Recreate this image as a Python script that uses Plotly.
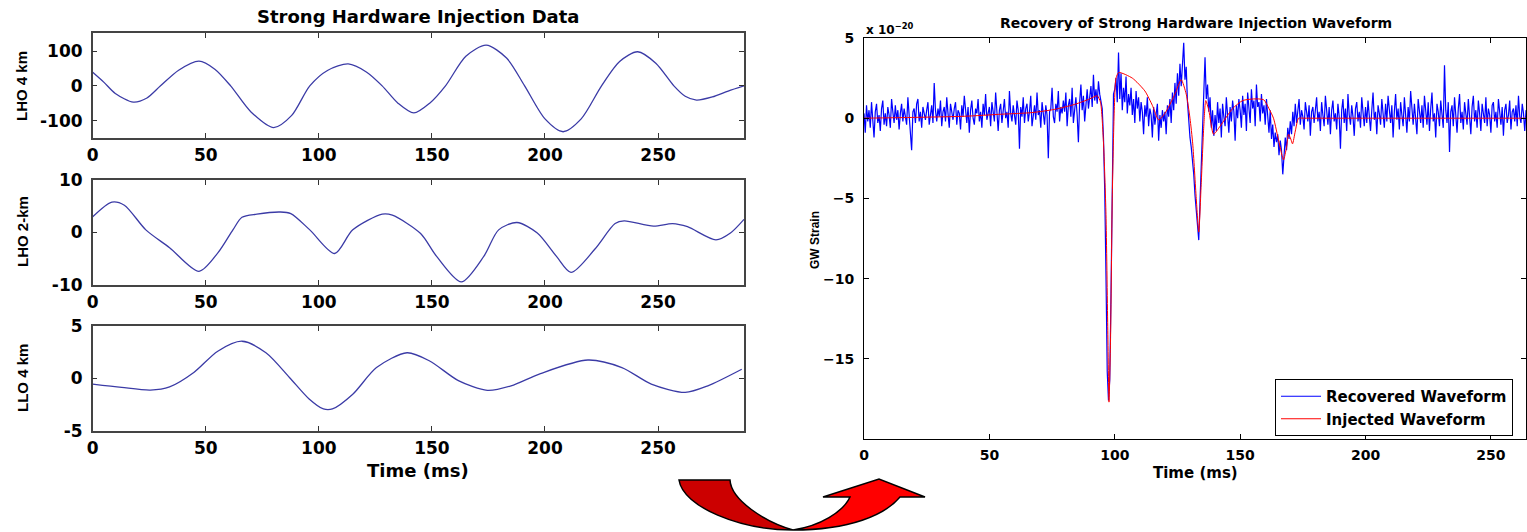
import numpy as np
import plotly.graph_objects as go

W, H = 1527, 532

# ---------------- Left panel data (ms, detector output) ----------------
lho4_t = [0, 5, 10, 18, 24, 30, 38, 47, 54, 61, 70, 80, 88, 96, 104, 113, 121, 128, 135, 142,
          149, 156, 165, 174, 183, 191, 200, 208, 216, 225, 233, 241, 249, 257, 262, 267, 274, 281, 288]
lho4_v = [39, 10, -22, -47, -35, 0, 45, 71, 48, 0, -75, -120, -85, 0, 45, 63, 40, 0, -50, -78,
          -50, 0, 85, 117, 80, 0, -95, -132, -95, 0, 70, 98, 65, 0, -30, -41, -32, -15, 0]

lho2_t = [0, 8.5, 14, 23.5, 34, 47, 55.5, 62, 66, 72.6, 83, 87.6, 96, 107, 115, 128, 132.5, 145,
          152, 163, 173, 179.5, 187.6, 196.6, 205, 211.5, 222, 231, 235, 248, 256.4, 263, 275.6, 282, 288]
lho2_v = [3.0, 5.8, 5.2, 0.5, -2.9, -7.4, -3.8, 0.5, 2.9, 3.5, 3.9, 3.6, 0.5, -4.0, 0.5, 3.5, 3.3, -0.2,
          -4.5, -9.4, -4.5, 0.5, 1.9, -0.1, -4.5, -7.6, -3.2, 1.7, 2.2, 1.2, 1.7, 1.1, -1.4, -0.1, 2.5]

llo4_t = [0, 12.8, 25.5, 34, 44.7, 55.3, 66, 76.6, 87, 95.7, 102, 106, 115, 125.5, 139, 149, 161.7,
          174.5, 185, 198, 219, 234, 247, 262, 272, 287]
llo4_v = [-0.53, -0.85, -1.1, -0.8, 0.57, 2.6, 3.55, 2.45, 0.1, -1.95, -2.9, -2.9, -1.5, 1.04, 2.45, 1.67, -0.2,
          -1.13, -0.7, 0.47, 1.76, 1.04, -0.53, -1.32, -0.7, 0.88]

left_xticks = [0, 50, 100, 150, 200, 250]

# ---------------- Right panel data (x 1e-20 strain) ----------------
inj_t = [0, 20, 40, 55, 67, 76, 84, 90, 93, 94.3, 95.5, 96.5, 97.2, 97.7, 98.3, 99, 99.8, 100.5, 101.6,
         107, 112, 115, 117.5, 120, 124, 126.5, 128.5, 130, 131.1, 132.5, 133.5, 134.5, 135.5, 136.3,
         137.5, 139.4, 142, 147, 151, 155.4, 159.4, 161.5, 163.3, 165.5, 167.3, 168.5, 169.3, 170.2,
         170.9, 172, 173.3, 175, 200, 230, 264]
inj_v = [0.0, 0.05, 0.12, 0.25, 0.35, 0.55, 0.86, 1.2, 1.4, 1.0, -1.5, -6.0, -13.0, -17.7, -14.0, -5.0, 0.5, 2.5, 2.85,
         2.5, 1.7, 0.8, -0.1, 0.3, 1.5, 2.4, 1.5, 0.0, -1.6, -5.0, -7.1, -4.0, -0.5, 1.1,
         0.5, -1.0, -0.5, 0.6, 1.1, 1.2, 1.15, 0.6, 0.0, -1.5, -2.6, -1.8, -1.0, -1.3,
         -1.6, -0.8, 0.0, 0.0, 0.0, 0.0, 0.0]

rec_dt = 0.5  # ms between recovered samples
rec_v = [
    0.3, -0.9, 0.8, -0.2, 0.5, -0.6, 1.0, 0.1, -1.2, 0.4, 0.9, -0.3, 0.2, -0.8, 0.6, 1.1, -0.4, 0.3, -0.5, 0.7,
    0.2, -0.6, 1.2, 0.4, -0.3, 0.8, -0.1, 0.5, -0.7, 0.3, 0.9, -0.2, 0.6, 0.1, -0.4, 1.3, 0.2, -0.5, -2.0, 0.4,
    0.6, -0.3, 0.9, 1.2, -0.2, 0.4, -0.6, 0.7, 0.3, -0.1, 0.5, 1.0, -0.4, 0.2, 0.8, -0.3, 2.2, 0.5, -0.2, 0.6,
    0.1, 1.1, -0.5, 0.4, 0.7, -0.2, 1.3, 0.3, -0.6, 0.9, 0.2, -0.1, 0.6, 1.0, -0.4, 0.5, 0.3, -0.7, 0.8, 0.1,
    1.4, 0.2, -0.3, 0.7, -0.9, 0.5, 1.1, 0.0, -0.4, 0.6, 0.3, 1.2, -0.2, 0.4, -0.6, 0.9, 0.2, 1.5, -0.1, 0.3,
    0.7, -0.5, 1.0, 0.4, -0.2, 1.6, 0.1, -0.8, 0.5, 0.9, -0.3, 0.6, 1.2, 0.0, 0.4, -0.6, 1.7, 0.3, -0.2, 0.8,
    0.2, -0.4, 1.1, 0.5, -1.9, 0.7, 0.1, 1.3, -0.3, 0.6, 0.9, -0.2, 0.4, 1.4, -0.5, 0.3, 0.8, -0.1, 1.6, 0.2,
    0.5, -0.6, 1.0, 0.3, -0.4, 0.8, 0.2, -2.5, 0.4, 0.6, 1.9, 0.1, -0.3, 0.9, 0.4, 1.7, -0.2, 0.7, 0.3, 1.1,
    0.4, 1.6, -0.5, 0.8, 1.2, 0.1, 1.9, -0.3, 0.7, 1.3, 0.2, -1.5, 1.0, 2.1, 0.5, 1.4, -0.2, 0.9, 1.8, 0.6,
    1.2, 2.0, 0.7, 2.7, 1.1, 1.8, 0.9, 2.3, 1.5, 1.0, 0.6, -1.2, -4.5, -9.8, -15.8, -17.6, -16.3, -11.0, -4.0, 1.5,
    1.8, 2.5, 1.0, 4.1, 1.2, 2.8, 0.5, 1.9, 1.0, 2.6, 0.3, 1.5, 0.8, 1.9, 0.2, 1.2, -0.3, 1.7, 0.6, 1.3,
    -0.2, 1.0, 0.4, -1.0, 0.8, 0.1, 1.3, -0.5, 0.6, 0.2, -1.2, 0.7, -0.4, 0.3, 0.9, -1.4, 0.2, -0.6, 0.5, -0.2,
    0.4, -1.0, 0.8, 0.1, 1.2, -0.3, 1.6, 0.5, 2.2, 0.9, 2.8, 1.4, 3.4, 2.0, 3.9, 4.7, 2.4, 3.2, 1.0, -0.5,
    -1.2, -1.8, -2.6, -3.5, -4.8, -5.6, -6.8, -7.6, -5.2, -3.0, -0.8, 1.0, 3.8, 1.2, 2.1, 0.4, 1.3, -0.6, 0.5, -1.1,
    0.2, -0.8, 1.0, -0.3, 0.6, -1.2, 0.9, 0.1, -0.5, 1.3, 0.3, -0.9, 0.7, -0.2, 1.1, 0.4, -1.4, 0.8, 0.0, 1.2,
    0.5, -0.6, 1.4, 0.2, 0.9, -0.8, 1.6, 0.4, -0.3, 1.8, 0.6, 1.1, -0.5, 2.1, 0.7, 1.0, -0.2, 1.5, 0.3, 0.8,
    -0.4, 1.2, 0.1, -0.9, 0.5, -1.3, -0.4, -1.8, -0.9, -1.5, -1.0, -2.3, -1.4, -2.0, -3.5, -2.1, -1.2, -2.0, -0.6, -1.3,
    -0.2, -1.0, 0.4, -0.5, 0.9, -0.3, 0.6, 1.2, -0.4, 0.5, 0.1, -0.7, 1.0, 0.3, -0.2, 0.8, -1.1, 0.4, 0.7, -0.3,
    0.6, 1.3, -0.2, 0.4, -0.8, 1.0, 0.2, -0.5, 1.4, 0.3, -0.4, 0.7, -1.0, 0.5, 1.1, -0.2, 0.3, -0.7, 0.9, 0.1,
    -1.9, 0.5, 1.2, -0.3, 0.6, -0.8, 1.5, 0.2, -0.4, 0.8, 0.1, -1.1, 0.6, 1.0, -0.2, 0.4, -0.6, 1.3, 0.3, -0.5,
    0.7, -0.3, 1.1, 0.2, -0.8, 0.5, 1.6, -0.1, 0.4, -1.0, 0.8, 0.3, -0.4, 1.2, 0.1, -0.6, 0.9, -0.2, 1.4, 0.5,
    -0.3, 0.8, -1.2, 0.4, 1.5, -0.1, 0.6, -0.7, 1.0, 0.2, -0.5, 1.3, 0.3, -0.9, 0.7, -0.2, 1.7, 0.4, -0.4, 0.9,
    0.1, -1.0, 1.2, 0.5, -0.3, 0.8, -0.6, 1.4, 0.2, -0.4, 1.0, -0.8, 0.6, 1.6, -0.2, 0.3, -1.2, 0.9, 0.4, -0.5,
    1.1, 0.2, -0.6, 3.3, 0.5, -0.3, 1.0, -2.1, 0.4, 0.8, -0.5, 1.3, 0.1, -0.9, 0.6, 1.5, -0.3, 0.4, -0.7, 1.0,
    0.3, -0.4, 1.2, 0.2, -1.0, 0.7, 1.4, -0.2, 0.5, -0.6, 1.1, 0.3, -0.8, 0.9, 0.1, -0.3, 1.3, -0.5, 0.6, 0.2,
    -0.9, 0.8, 1.0, -0.2, 0.4, -0.6, 1.2, 0.3, -0.4, 0.7, -1.1, 0.5, 0.9, -0.3, 0.2, 1.1, -0.7, 0.4, 0.6, -0.2,
    0.8, -0.5, 1.4, 0.1, -0.3, 0.9, 0.3, -0.8, 0.5, 0.1,
]
rec_t = np.arange(len(rec_v)) * rec_dt

right_xticks = [0, 50, 100, 150, 200, 250]
right_yticks = [-15, -10, -5, 0, 5]


# ---------------- helpers ----------------
def px(x):
    return x / W


def py(y):
    return 1 - y / H


BOLD = "DejaVu Sans"
ARIAL = "Liberation Sans"

fig = go.Figure()

left_color = "#3b3ba6"
for xs, ys, xa, ya in [(lho4_t, lho4_v, "x", "y"), (lho2_t, lho2_v, "x2", "y2"), (llo4_t, llo4_v, "x3", "y3")]:
    fig.add_trace(go.Scatter(x=xs, y=ys, mode="lines",
                             line=dict(color=left_color, width=1.3, shape="spline", smoothing=0.8),
                             xaxis=xa, yaxis=ya, showlegend=False))

fig.add_trace(go.Scatter(x=rec_t, y=rec_v, mode="lines", name="Recovered Waveform",
                         line=dict(color="#0000ff", width=1.2), xaxis="x4", yaxis="y4"))
fig.add_trace(go.Scatter(x=inj_t, y=inj_v, mode="lines", name="Injected Waveform",
                         line=dict(color="#ff0000", width=1, shape="spline", smoothing=0.6), xaxis="x4", yaxis="y4"))

tickfont_left = dict(family=BOLD, size=17, color="black", weight="bold")
left_xdom = [px(92.7), px(744)]


def left_x(anchor):
    return dict(domain=left_xdom, range=[0, 288], anchor=anchor, tickvals=left_xticks,
                ticks="inside", ticklen=5, tickcolor="#333", mirror="allticks", showline=True,
                linecolor="#444", linewidth=1.5, showgrid=False, zeroline=False, automargin=False,
                tickfont=tickfont_left, ticklabelstandoff=1)


def left_y(anchor, dom, rng, vals, texts):
    return dict(domain=dom, range=rng, anchor=anchor, tickvals=vals, ticktext=texts,
                ticks="inside", ticklen=5, tickcolor="#333", mirror="allticks", showline=True,
                linecolor="#444", linewidth=1.5, showgrid=False, zeroline=False, automargin=False,
                tickfont=tickfont_left, ticklabelstandoff=5)


tickfont_right = dict(family=BOLD, size=14, color="black", weight="bold")

fig.update_layout(
    width=W, height=H,
    margin=dict(l=0, r=0, t=0, b=0, autoexpand=False),
    paper_bgcolor="white", plot_bgcolor="white",
    xaxis=left_x("y"),
    yaxis=left_y("x", [py(138), py(33)], [-150, 152], [-100, 0, 100], ["-100", "0", "100"]),
    xaxis2=left_x("y2"),
    yaxis2=left_y("x2", [py(285), py(180)], [-10, 10], [-10, 0, 10], ["-10", "0", "10"]),
    xaxis3=left_x("y3"),
    yaxis3=left_y("x3", [py(431), py(326)], [-5, 5], [-5, 0, 5], ["-5", "0", "5"]),
    xaxis4=dict(domain=[px(864), px(1526)], range=[0, 264], anchor="y4", tickvals=right_xticks,
                ticks="inside", ticklen=5, tickcolor="black", mirror="allticks", showline=True,
                linecolor="black", linewidth=1, showgrid=False, zeroline=False, automargin=False,
                tickfont=tickfont_right, ticklabelstandoff=3),
    yaxis4=dict(domain=[py(439), py(38)], range=[-20, 5], anchor="x4", tickvals=right_yticks,
                ticks="inside", ticklen=5, tickcolor="black", mirror="allticks", showline=True,
                linecolor="black", linewidth=1, showgrid=False, zeroline=False, automargin=False,
                tickfont=tickfont_right, ticklabelstandoff=6),
    legend=dict(x=px(1513), y=py(436), xanchor="right", yanchor="bottom",
                bgcolor="white", bordercolor="black", borderwidth=1,
                font=dict(family=BOLD, size=15, color="black", weight="bold"), tracegroupgap=0,
                itemwidth=40),
    showlegend=True,
)

ann = []


def add_text(x, y, text, size, family=BOLD, angle=0, xanchor="center"):
    ann.append(dict(x=px(x), y=py(y), xref="paper", yref="paper", text=text, showarrow=False,
                    font=dict(family=family, size=size, color="black", weight="bold"), textangle=angle,
                    xanchor=xanchor, yanchor="middle"))


add_text(418, 17, "Strong Hardware Injection Data", 18)
add_text(22, 86, "LHO 4 km", 15, ARIAL, -90)
add_text(22, 232, "LHO 2-km", 15, ARIAL, -90)
add_text(22, 378, "LLO 4 km", 15, ARIAL, -90)
add_text(418, 470, "Time (ms)", 18)

add_text(1196, 23, "Recovery of Strong Hardware Injection Waveform", 14)
add_text(864, 29, "x 10<sup>−20</sup>", 12, xanchor="left")
add_text(815, 240, "GW Strain", 12, ARIAL, -90)
add_text(1195, 473, "Time (ms)", 15)
fig.update_layout(annotations=ann)


# curved arrow decoration (pixel coords -> paper)
def P(x, y):
    return f"{px(x):.5f},{py(y):.5f}"


left_band = (f"M {P(679,480)} L {P(730,480)} "
             f"C {P(731,500)} {P(765,522)} {P(793,530)} "
             f"C {P(740,530)} {P(683,507)} {P(679,480)} Z")
right_band = (f"M {P(793,530)} C {P(850,530)} {P(885,515)} {P(900,497)} "
              f"L {P(925,497)} L {P(879,479)} L {P(823,497)} L {P(850,497)} "
              f"C {P(843,512)} {P(820,526)} {P(793,530)} Z")
fig.update_layout(shapes=[
    dict(type="path", xref="paper", yref="paper", path=left_band, fillcolor="#cc0000",
         line=dict(color="black", width=1.5)),
    dict(type="path", xref="paper", yref="paper", path=right_band, fillcolor="#ff0000",
         line=dict(color="black", width=1.5)),
])

fig.write_html("out.html", config={"displayModeBar": False},
               post_script="document.body.style.margin='0';document.body.style.overflow='hidden';")
